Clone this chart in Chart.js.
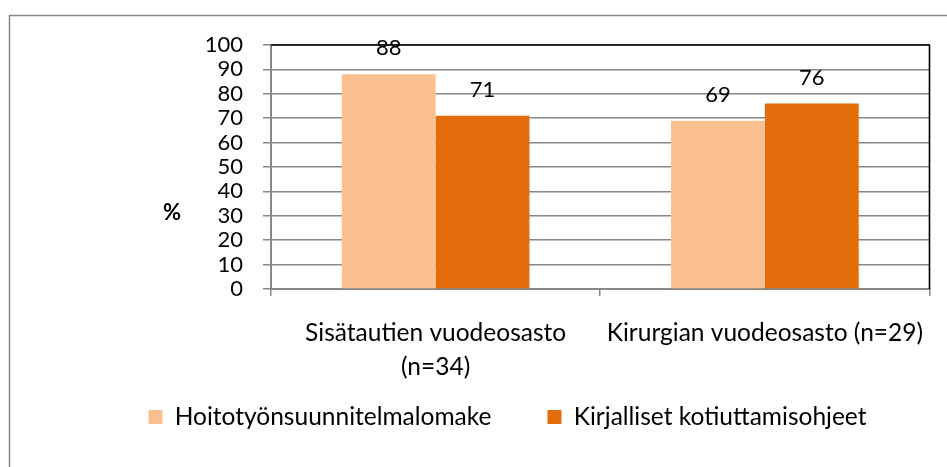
<!DOCTYPE html>
<html>
<head>
<meta charset="utf-8">
<script src="https://cdn.jsdelivr.net/npm/chart.js@4.4.1/dist/chart.umd.min.js"></script>
<style>
  html, body { margin: 0; padding: 0; background: #fff; }
  canvas { display: block; }
</style>
</head>
<body>
<canvas id="chart" width="947" height="467"></canvas>
<script>
// data
const categories = [['Sisätautien vuodeosasto', '(n=34)'], 'Kirurgian vuodeosasto (n=29)'];
const seriesNames = ['Hoitotyönsuunnitelmalomake', 'Kirjalliset kotiuttamisohjeet'];
const hoitotyo = [88, 69];
const kirjalliset = [71, 76];
const yMin = 0, yMax = 100, yStep = 10;
const axisTitle = '%';

const FONT = 'Lato';
const GRAY = '#878787';

// value labels, plot border, '%' and the outer frame
const decor = {
  id: 'decor',
  beforeDraw(chart) {
    const ctx = chart.ctx;
    ctx.save();
    ctx.fillStyle = '#fff';
    ctx.fillRect(0, 0, chart.width, chart.height);
    ctx.restore();
  },
  afterDatasetsDraw(chart) {
    const ctx = chart.ctx;
    const a = chart.chartArea;
    ctx.save();
    ctx.font = '22px ' + FONT;
    ctx.fillStyle = '#000';
    ctx.textAlign = 'center';
    ctx.textBaseline = 'middle';
    chart.data.datasets.forEach((ds, i) => {
      chart.getDatasetMeta(i).data.forEach((bar, j) => {
        ctx.fillText(ds.data[j], bar.x, bar.y - 26);
      });
    });

    ctx.strokeStyle = '#000';
    ctx.lineWidth = 1.6;
    ctx.beginPath();
    ctx.moveTo(a.left, a.top);
    ctx.lineTo(a.right, a.top);
    ctx.lineTo(a.right, a.bottom);
    ctx.stroke();

    ctx.font = 'bold 22px ' + FONT;
    ctx.fillText(axisTitle, a.left - 99, a.top + 168);

    ctx.strokeStyle = GRAY;
    ctx.lineWidth = 1.5;
    ctx.beginPath();
    ctx.moveTo(9.5, chart.height + 5);
    ctx.lineTo(9.5, 15.5);
    ctx.lineTo(chart.width + 5, 15.5);
    ctx.stroke();
    ctx.restore();
  }
};

new Chart(document.getElementById('chart'), {
  type: 'bar',
  data: {
    labels: categories,
    datasets: [
      { label: seriesNames[0], data: hoitotyo, backgroundColor: '#FAC090', borderWidth: 0 },
      { label: seriesNames[1], data: kirjalliset, backgroundColor: '#E46C0A', borderWidth: 0 }
    ]
  },
  options: {
    responsive: false,
    animation: false,
    layout: { padding: { left: 84, right: 16, top: 45, bottom: 27.75 } },
    datasets: { bar: { categoryPercentage: 0.57, barPercentage: 1 } },
    scales: {
      x: {
        grid: { display: true, drawOnChartArea: false, color: GRAY, lineWidth: 1.5, tickLength: 7, offset: true },
        border: { color: GRAY, width: 2 },
        ticks: { color: '#000', font: { family: FONT, size: 24.5, lineHeight: 1.39 }, padding: 20, maxRotation: 0, autoSkip: false },
        afterFit(scale) {
          scale.height = 59.75;
          // the wrapped label runs below the axis box, down toward the legend
          scale._computeLabelArea = () => undefined;
        }
      },
      y: {
        min: yMin,
        max: yMax,
        grid: { color: GRAY, lineWidth: 1.5, tickLength: 8 },
        border: { color: GRAY, width: 2 },
        ticks: { stepSize: yStep, autoSkip: false, color: '#000', font: { family: FONT, size: 22 }, padding: 20 },
        afterFit(scale) { scale.width = 271 - 84; }
      }
    },
    plugins: {
      legend: {
        position: 'bottom',
        labels: { color: '#000', font: { family: FONT, size: 24.5 }, boxWidth: 14, boxHeight: 14, padding: 56 }
      },
      tooltip: { enabled: false }
    }
  },
  plugins: [decor]
});
</script>
</body>
</html>
